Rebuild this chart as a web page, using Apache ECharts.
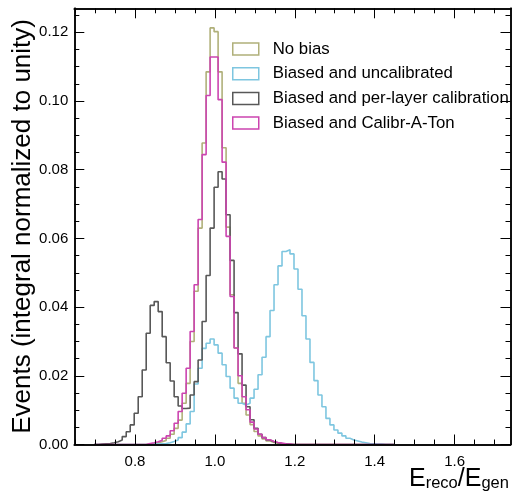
<!DOCTYPE html>
<html>
<head>
<meta charset="utf-8">
<script src="https://cdn.jsdelivr.net/npm/echarts@6/dist/echarts.min.js"></script>
<style>
  html, body { margin: 0; padding: 0; background: #ffffff; }
  #chart { width: 513px; height: 496px; }
</style>
</head>
<body>
<div id="chart"></div>
<script>
// Histogram binning: left edge of the first listed bin and the bin width
const binStart = 0.698;
const binWidth = 0.01;

const seriesNames = [
  'No bias',
  'Biased and uncalibrated',
  'Biased and per-layer calibration',
  'Biased and Calibr-A-Ton'
];

// Normalised bin contents (one value per bin, starting at binStart)
const noBias = [
  0, 0, 0, 0, 0,
  0, 0, 0, 0, 0,
  0, 0, 0, 0.0002, 0.0003,
  0.0005, 0.0008, 0.0012, 0.0018, 0.0030,
  0.0047, 0.0071, 0.0120, 0.0178, 0.0300,
  0.0446, 0.0630, 0.0878, 0.1085, 0.1213,
  0.1202, 0.1085, 0.0864, 0.0633, 0.0436,
  0.0281, 0.0178, 0.0120, 0.0086, 0.0058,
  0.0038, 0.0025, 0.0016, 0.0010, 0.0006,
  0.0004, 0.0002, 0.0001, 0, 0,
  0, 0, 0, 0, 0,
  0, 0, 0, 0, 0,
  0, 0, 0, 0, 0,
  0, 0, 0, 0, 0,
  0, 0, 0, 0, 0
];

const biasedUncalibrated = [
  0, 0, 0, 0, 0,
  0, 0, 0, 0, 0,
  0, 0, 0, 0, 0.0001,
  0.0001, 0.0002, 0.0003, 0.0005, 0.0009,
  0.0013, 0.0020, 0.0036, 0.0060, 0.0096,
  0.0176, 0.0222, 0.0280, 0.0295, 0.0307,
  0.0290, 0.0266, 0.0232, 0.0198, 0.0164,
  0.0135, 0.0120, 0.0115, 0.0120, 0.0135,
  0.0161, 0.0203, 0.0254, 0.0314, 0.0390,
  0.0465, 0.0520, 0.0562, 0.0567, 0.0555,
  0.0511, 0.0452, 0.0375, 0.0307, 0.0239,
  0.0186, 0.0144, 0.0110, 0.0076, 0.0057,
  0.0042, 0.0033, 0.0025, 0.0018, 0.0013,
  0.0010, 0.0007, 0.0005, 0.0003, 0.0002,
  0.0001, 0.0001, 0, 0, 0
];

const perLayerCalib = [
  0, 0.0001, 0.0002, 0.0003, 0.0005,
  0.0008, 0.0013, 0.0023, 0.0037, 0.0057,
  0.0091, 0.0139, 0.0217, 0.0324, 0.0405,
  0.0416, 0.0387, 0.0314, 0.0238, 0.0185,
  0.0139, 0.0112, 0.0105, 0.0106, 0.0144,
  0.0183, 0.0246, 0.0358, 0.0492, 0.0630,
  0.0749, 0.0794, 0.0773, 0.0669, 0.0536,
  0.0384, 0.0264, 0.0173, 0.0110, 0.0072,
  0.0047, 0.0030, 0.0020, 0.0013, 0.0008,
  0.0005, 0.0003, 0.0002, 0.0001, 0,
  0, 0, 0, 0, 0,
  0, 0, 0, 0, 0,
  0, 0, 0, 0, 0,
  0, 0, 0, 0, 0,
  0, 0, 0, 0, 0
];

const calibrATon = [
  0, 0, 0, 0, 0,
  0, 0, 0, 0, 0,
  0, 0, 0, 0.0003, 0.0005,
  0.0008, 0.0012, 0.0018, 0.0025, 0.0040,
  0.0062, 0.0096, 0.0149, 0.0222, 0.0329,
  0.0465, 0.0655, 0.0844, 0.1016, 0.1128,
  0.1128, 0.1004, 0.0822, 0.0606, 0.0431,
  0.0281, 0.0200, 0.0139, 0.0101, 0.0065,
  0.0045, 0.0030, 0.0020, 0.0014, 0.0009,
  0.0006, 0.0004, 0.0002, 0.0001, 0,
  0, 0, 0, 0, 0,
  0, 0, 0, 0, 0,
  0, 0, 0, 0, 0,
  0, 0, 0, 0, 0,
  0, 0, 0, 0, 0
];

const seriesColors = ['#b0b07a', '#7ec6e0', '#585858', '#cc44b0'];

// Axis ranges and tick positions
const xRange = [0.648, 1.74];
const yRange = [0, 0.127];
const xMajorTicks = [0.8, 1.0, 1.2, 1.4, 1.6];
const xMinorTicks = [0.65, 0.7, 0.75, 0.85, 0.9, 0.95, 1.05, 1.1, 1.15, 1.25, 1.3, 1.35, 1.45, 1.5, 1.55, 1.65, 1.7];
const yMajorTicks = [0, 0.02, 0.04, 0.06, 0.08, 0.1, 0.12];
const yMinorTicks = [0.005, 0.01, 0.015, 0.025, 0.03, 0.035, 0.045, 0.05, 0.055, 0.065, 0.07, 0.075,
                     0.085, 0.09, 0.095, 0.105, 0.11, 0.115, 0.125];

// Step outline: each bin starts at its left edge, last point closes the final bin
function stepPoints(values) {
  const pts = values.map((v, i) => [+(binStart + i * binWidth).toFixed(4), v]);
  pts.push([+(binStart + values.length * binWidth).toFixed(4), values[values.length - 1]]);
  return pts;
}

const fontFamily = '"Liberation Sans", Arial, Helvetica, sans-serif';

function axisDef(kind, position, ticks, tickLen, labels, extra) {
  const range = kind === 'x' ? xRange : yRange;
  const def = {
    type: 'value',
    position: position,
    min: range[0],
    max: range[1],
    axisLine: { show: true, onZero: false, lineStyle: { color: '#000', width: 1.5 } },
    axisTick: { show: true, inside: true, length: tickLen, customValues: ticks,
                lineStyle: { color: '#000', width: 1 } },
    axisLabel: labels ? {
      show: true,
      customValues: ticks,
      formatter: kind === 'x' ? (v) => v.toFixed(1) : (v) => v.toFixed(2),
      fontFamily: fontFamily,
      fontSize: 15,
      color: '#000',
      margin: kind === 'x' ? 10 : 6
    } : { show: false },
    splitLine: { show: false },
    minorTick: { show: false },
    z: 10
  };
  return Object.assign(def, extra || {});
}

const chart = echarts.init(document.getElementById('chart'), null, { renderer: 'canvas' });

const option = {
  animation: false,
  backgroundColor: '#ffffff',
  grid: { left: 74.3, right: 2.5, top: 8.3, bottom: 51.5, containLabel: false, outerBoundsMode: 'none' },
  xAxis: [
    axisDef('x', 'bottom', xMajorTicks, 10, true, {
      name: '{m|E}{s|reco}{m|/E}{s|gen}',
      nameLocation: 'end',
      nameGap: -101.5,
      nameMoveOverlap: false,
      nameTextStyle: {
        verticalAlign: 'top',
        padding: [22, 0, 0, 0],
        rich: {
          m: { fontSize: 25, fontFamily: fontFamily, color: '#000', verticalAlign: 'bottom' },
          s: { fontSize: 16.5, fontFamily: fontFamily, color: '#000', verticalAlign: 'bottom' }
        }
      }
    }),
    axisDef('x', 'bottom', xMinorTicks, 5, false),
    axisDef('x', 'top', xMajorTicks, 10, false),
    axisDef('x', 'top', xMinorTicks, 5, false)
  ],
  yAxis: [
    axisDef('y', 'left', yMajorTicks, 10, true, {
      name: 'Events (integral normalized to unity)',
      nameLocation: 'middle',
      nameGap: 38,
      nameMoveOverlap: false,
      nameTextStyle: { fontSize: 26, fontFamily: fontFamily, color: '#000' }
    }),
    axisDef('y', 'left', yMinorTicks, 5, false),
    axisDef('y', 'right', yMajorTicks, 10, false),
    axisDef('y', 'right', yMinorTicks, 5, false)
  ],
  legend: {
    orient: 'vertical',
    left: 232,
    top: 40.5,
    padding: 0,
    itemWidth: 26,
    itemHeight: 12,
    itemGap: 7.7,
    icon: 'rect',
    textStyle: { fontSize: 16.8, fontFamily: fontFamily, color: '#000', padding: [0, 0, 0, 9] },
    data: seriesNames.map((n, i) => ({
      name: n,
      itemStyle: { color: 'rgba(0,0,0,0)', borderColor: seriesColors[i], borderWidth: 1.5 }
    }))
  },
  series: [noBias, biasedUncalibrated, perLayerCalib, calibrATon].map((vals, i) => ({
    name: seriesNames[i],
    type: 'line',
    step: 'end',
    xAxisIndex: 0,
    yAxisIndex: 0,
    symbol: 'none',
    data: stepPoints(vals),
    lineStyle: { color: seriesColors[i], width: 1.6 },
    itemStyle: { color: seriesColors[i] },
    z: 2 + i
  }))
};

chart.setOption(option);
</script>
</body>
</html>
